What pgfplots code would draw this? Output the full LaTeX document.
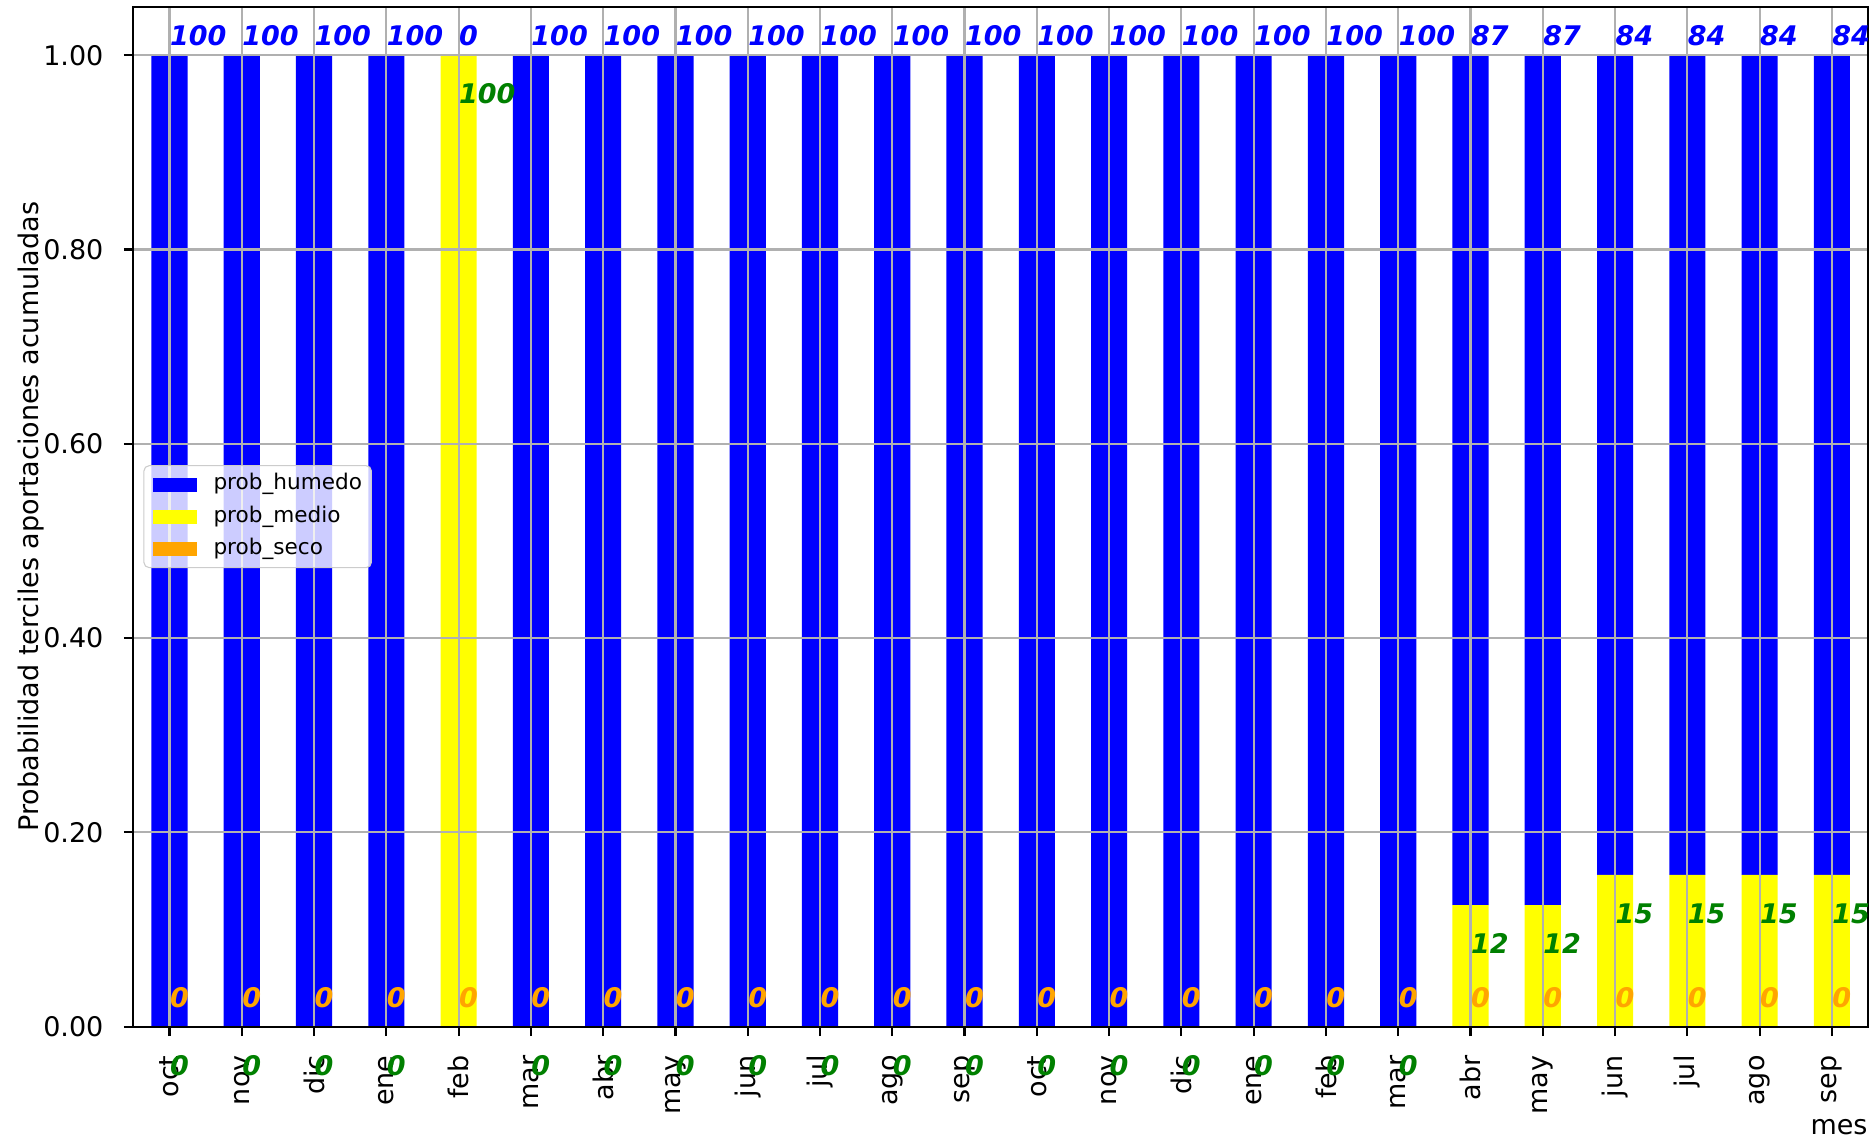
\documentclass[border=0pt]{standalone}
\usepackage{fontspec}
\setmainfont{DejaVu Sans}
\usepackage{pgfplots}
\usepackage{pgfplotstable}
\pgfplotsset{compat=1.18}

\definecolor{mplblue}{HTML}{0000FF}
\definecolor{mplyellow}{HTML}{FFFF00}
\definecolor{mplorange}{HTML}{FFA500}
\definecolor{mplgreen}{HTML}{008000}
\definecolor{mplgrid}{HTML}{B0B0B0}
\definecolor{legedge}{HTML}{CCCCCC}

% prob_seco, prob_medio, prob_humedo and their printed values
\pgfplotstableread{
x  sec med     hum     lsec lmed lhum
0  0   0       1       0    0    100
1  0   0       1       0    0    100
2  0   0       1       0    0    100
3  0   0       1       0    0    100
4  0   1       0       0    100  0
5  0   0       1       0    0    100
6  0   0       1       0    0    100
7  0   0       1       0    0    100
8  0   0       1       0    0    100
9  0   0       1       0    0    100
10 0   0       1       0    0    100
11 0   0       1       0    0    100
12 0   0       1       0    0    100
13 0   0       1       0    0    100
14 0   0       1       0    0    100
15 0   0       1       0    0    100
16 0   0       1       0    0    100
17 0   0       1       0    0    100
18 0   0.125   0.875   0    12   87
19 0   0.125   0.875   0    12   87
20 0   0.15625 0.84375 0    15   84
21 0   0.15625 0.84375 0    15   84
22 0   0.15625 0.84375 0    15   84
23 0   0.15625 0.84375 0    15   84
}\datos

\pgfplotsset{
  base/.style={
    scale only axis,
    width=642.6pt, height=377.8pt,
    xmin=-0.5, xmax=23.5,
    ymin=0, ymax=1.05,
  },
  bloque/.style={legend image code/.code={\fill[##1, fill opacity=1, sharp corners] (0pt,-2.6pt) rectangle (16pt,2.6pt);}},
}

\begin{document}
\begin{tikzpicture}
\begin{axis}[
  base,
  name=main,
  ybar stacked,
  bar width=0.5,
  xtick={0,...,23},
  xticklabels={oct,nov,dic,ene,feb,mar,abr,may,jun,jul,ago,sep,oct,nov,dic,ene,feb,mar,abr,may,jun,jul,ago,sep},
  xticklabel style={rotate=90, anchor=east, inner sep=0pt},
  ytick={0,0.2,0.4,0.6,0.8,1},
  yticklabel style={/pgf/number format/fixed, /pgf/number format/fixed zerofill, /pgf/number format/precision=2, inner sep=0pt},
  /pgf/number format/assume math mode=true,
  xticklabel shift=7pt,
  yticklabel shift=7.4pt,
  grid=major,
  major grid style={draw=mplgrid, line width=0.8pt},
  axis line style={line width=0.8pt},
  tick align=outside, tick pos=left,
  major tick length=3.5pt,
  major tick style={black, line width=0.8pt},
  axis on top,
  xlabel={mes},
  ylabel={Probabilidad terciles aportaciones acumuladas},
  every axis x label/.style={at={(axis description cs:1,-0.106)}, anchor=base east, inner sep=0pt},
  every axis y label/.style={at={(axis description cs:-0.0509,0.5)}, rotate=90, anchor=south, inner sep=0pt},
  reverse legend,
  legend cell align=left,
  legend style={at={(axis description cs:0,0.5)}, anchor=west, xshift=3.7pt,
    draw=legedge, fill=white, fill opacity=0.8, text opacity=1, rounded corners=2pt,
    font=\fontsize{8}{9.6}\selectfont, inner xsep=3.5pt, inner ysep=3pt,
    row sep=3.9pt, column sep=6.3pt,
    nodes={inner sep=0pt, text height=6pt, text depth=2pt}},
]
\addplot[fill=mplorange, draw=none, bloque] table[x=x, y=sec] {\datos};
\addlegendentry{prob\_seco}
\addplot[fill=mplyellow, draw=none, bloque] table[x=x, y=med] {\datos};
\addlegendentry{prob\_medio}
\addplot[fill=mplblue, draw=none, bloque] table[x=x, y=hum] {\datos};
\addlegendentry{prob\_humedo}
\end{axis}

\begin{axis}[
  base,
  hide axis,
  clip=false,
  nodes near coords,
  point meta=explicit symbolic,
  every node near coord/.append style={anchor=base west, inner sep=0pt, font=\bfseries\itshape},
]
\addplot[draw=none, nodes near coords style={text=mplblue}]
  table[x=x, y expr=\thisrow{sec}+\thisrow{med}+\thisrow{hum}+0.01, meta=lhum] {\datos};
\addplot[draw=none, nodes near coords style={text=mplorange}]
  table[x=x, y expr=\thisrow{sec}+0.02, meta=lsec] {\datos};
\addplot[draw=none, nodes near coords style={text=mplgreen}]
  table[x=x, y expr=\thisrow{sec}+\thisrow{med}-0.05, meta=lmed] {\datos};
\end{axis}

\pgfresetboundingbox
\path (main.south west) ++(-49.4pt,-42pt) coordinate (bl);
\path (main.north east) ++(1.1pt,2.5pt) coordinate (tr);
\path[use as bounding box] (bl) rectangle (tr);
\end{tikzpicture}
\end{document}
